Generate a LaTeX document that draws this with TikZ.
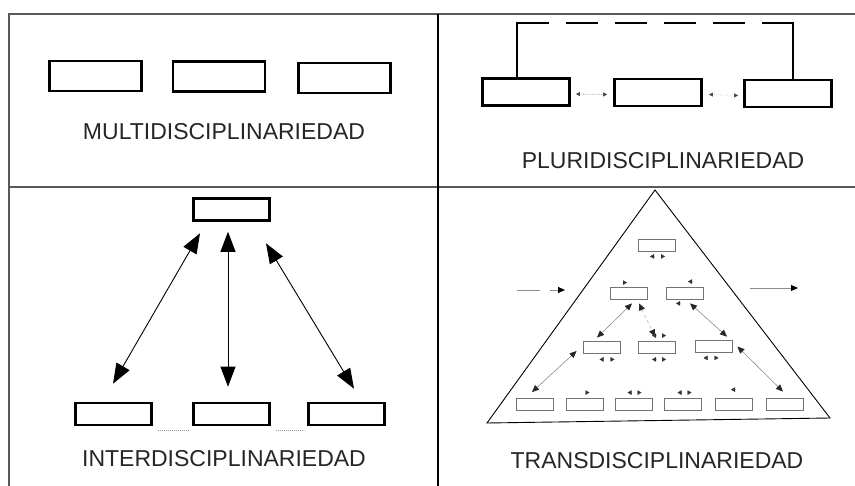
\documentclass[tikz,border=0pt]{standalone}
\usepackage{fontspec}
\setmainfont{Liberation Sans}
\usetikzlibrary{arrows.meta,positioning}
\tikzset{%
  tableline/.style={draw=black!65,line width=1.6},
  disc/.style={draw,shape=rectangle,line width=2.6,minimum width=92,minimum height=30,inner sep=0},
  idisc/.style={disc,minimum width=76,minimum height=22},
  tdisc/.style={draw=black!55,shape=rectangle,line width=0.8,minimum width=37,minimum height=12,inner sep=0},
  disctitle/.style={font=\fontsize{23}{27}\selectfont,text=black!85,inner sep=0},
  bracket/.style={draw,line width=2.8},
  faint/.style={draw=black!35,densely dotted,line width=0.8,
    {Triangle[length=4pt,width=4pt,color=black!70]}-{Triangle[length=4pt,width=4pt,color=black!70]}},
  bigarrow/.style={draw,line width=0.9,{Triangle[length=20pt,width=15pt]}-{Triangle[length=20pt,width=15pt]}},
  tarrow/.style={draw=black!45,line width=0.6,
    {Triangle[length=7pt,width=6pt,color=black!85]}-{Triangle[length=7pt,width=6pt,color=black!85]}},
  smalltip/.style={draw=black!20,line width=0.3,-{Triangle[length=4pt,width=4.5pt,color=black!80]}},
  sidearrow/.style={draw=black!45,line width=0.8,-{Triangle[length=7pt,width=6pt,color=black]}}
}
\begin{document}
\begin{tikzpicture}[x=1pt,y=-1pt]
  \useasboundingbox (0,0) rectangle (855,486);
  % table
  \coordinate (tl) at (9,14);
  \coordinate (tr) at (855,14);
  \coordinate (ml) at (9,187);
  \coordinate (mr) at (855,187);
  \coordinate (bl) at (9,486);
  \coordinate (tm) at (438,14);
  \coordinate (bm) at (438,486);
  \draw[tableline] (tr) -- (tl) -- (bl);
  \draw[tableline] (ml) -- (mr);
  \draw[tableline,draw=black] (tm) -- (bm);

  % multidisciplinariedad
  \node[disc] (m1) at (95.5,76) {};
  \node[disc] (m2) at (219,76.5) {};
  \node[disc] (m3) at (344.5,78) {};
  \node[disctitle] (mtitle) at (224,132) {MULTIDISCIPLINARIEDAD};

  % pluridisciplinariedad
  \node[disc,minimum width=87,minimum height=27] (p1) at (526,92) {};
  \node[disc,minimum width=87,minimum height=27] (p2) at (658,92.5) {};
  \node[disc,minimum width=87,minimum height=27] (p3) at (788,93.5) {};
  \coordinate (pl) at (517,23);
  \coordinate (pr) at (793,23);
  \draw[bracket] ([xshift=-9]p1.north) -- ([yshift=1.4]pl);
  \draw[bracket,dash pattern=on 32pt off 17pt] (pl) -- (pr);
  \draw[bracket] ([yshift=1.4]pr) -- ([xshift=5]p3.north);
  \draw[faint] ([xshift=5,yshift=-2]p1.east) -- ([xshift=-6,yshift=-2]p2.west);
  \draw[faint,draw=black!15] ([xshift=6,yshift=-2]p2.east) -- ([xshift=-5,yshift=-2]p3.west);
  \node[disctitle] (ptitle) at (663,161) {PLURIDISCIPLINARIEDAD};

  % interdisciplinariedad
  \node[idisc] (i0) at (231.5,209.5) {};
  \node[idisc] (i1) at (113.5,414) {};
  \node[idisc] (i2) at (231.5,414) {};
  \node[idisc] (i3) at (346.5,414) {};
  \draw[bigarrow] ([xshift=-31.5,yshift=-11.5]i0.south) -- ([xshift=-0.5,yshift=18]i1.north);
  \draw[bigarrow] ([xshift=-3.5,yshift=-10]i0.south) -- ([xshift=-3.5,yshift=15]i2.north);
  \draw[bigarrow] ([xshift=34.5,yshift=-21.5]i0.south) -- ([xshift=7.5,yshift=13]i3.north);
  \draw[black!40,densely dotted,line width=1] ([xshift=5,yshift=-4]i1.south east) -- ([xshift=-4,yshift=-4]i2.south west);
  \draw[black!40,densely dotted,line width=1] ([xshift=5,yshift=-4]i2.south east) -- ([xshift=-4,yshift=-4]i3.south west);
  \node[disctitle] (ititle) at (224,459) {INTERDISCIPLINARIEDAD};

  % transdisciplinariedad
  \coordinate (apex) at (655,190);
  \coordinate (right) at (830,418);
  \coordinate (left) at (487,423);
  \draw[line width=0.9] (apex) -- (right) -- (left) -- cycle;
  \node[tdisc] (t0) at (657,245.5) {};
  \node[tdisc] (t1) at (629,293) {};
  \node[tdisc] (t2) at (685,293) {};
  \node[tdisc] (t3) at (601.5,347.5) {};
  \node[tdisc] (t4) at (657,347.5) {};
  \node[tdisc] (t5) at (713.5,346.5) {};
  \foreach \x [count=\i from 6] in {535,584.5,633.5,682.5,734,784.5}
    \node[tdisc] (t\i) at (\x,404) {};
  \draw[tarrow] ([xshift=3,yshift=-4]t1.south) -- ([xshift=-4.5,yshift=3.5]t3.north);
  \draw[tarrow,dashed,draw=black!30] ([xshift=10,yshift=-4]t1.south) -- ([xshift=-2,yshift=4.5]t4.north);
  \draw[tarrow] ([xshift=5,yshift=-4]t2.south) -- ([xshift=13.5,yshift=3.5]t5.north);
  \draw[tarrow] ([xshift=-6,yshift=-3.5]t3.west) -- ([xshift=-3,yshift=5.5]t6.north);
  \draw[tarrow] ([xshift=5]t5.east) -- ([xshift=-1.5,yshift=6]t11.north);
  \foreach \a/\dx/\dy/\dd in {t0.south/-3/-4.5/-4, t0.south/4/-4.5/4,
      t1.north/-6/4/4, t2.north/7/5/-4, t2.south/-5/-4/-4,
      t4.north/-1/5.5/-4, t4.north/5/5.5/4,
      t3.south/2/-5.5/-4, t3.south/9/-5.5/4,
      t4.south/-1/-5.5/-4, t4.south/5/-5.5/4,
      t5.south/-6/-5/-4, t5.south/1/-5/4,
      t7.north/1/5/4, t8.north/-2/5/-4, t8.north/4/5/4,
      t9.north/-1/5/-4, t9.north/5/5/4, t10.north/1/8/-4}
    \draw[smalltip] ([xshift=\dx,yshift=\dy]\a) -- ++(\dd,0);
  \coordinate (inA) at (517,290);
  \coordinate (inB) at (565,290);
  \coordinate (outA) at (750,288);
  \coordinate (outB) at (798,288);
  \draw[sidearrow,dash pattern=on 23pt off 10pt] (inA) -- (inB);
  \draw[sidearrow] (outA) -- (outB);
  \node[disctitle] (ttitle) at (657,461) {TRANSDISCIPLINARIEDAD};
\end{tikzpicture}
\end{document}
